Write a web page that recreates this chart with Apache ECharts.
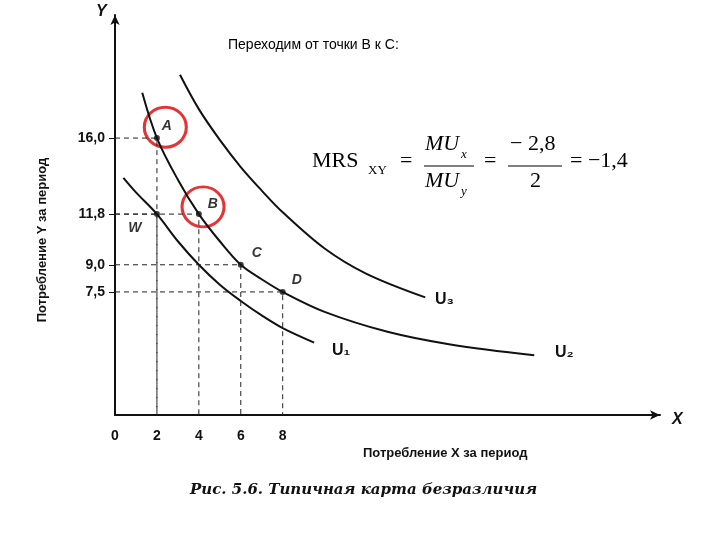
<!DOCTYPE html>
<html><head><meta charset="utf-8">
<script src="https://cdn.jsdelivr.net/npm/echarts@6/dist/echarts.min.js"></script>
<style>html,body{margin:0;background:#fff}#c{width:720px;height:540px}</style>
</head><body><div id="c"></div>
<script>
// кривые безразличия (x, y)
var u1 = [[0.4,13.8],[1,13],[2,11.8],[3,10.3],[4,9.0],[5,7.9],[6,7.0],[7,6.2],[8,5.5],[9.5,4.7]];
var u2 = [[1.3,18.5],[2,16],[3,13.7],[4,11.8],[5,10.3],[6,9],[7,8.2],[8,7.5],[10,6.4],[13,5.3],[16,4.6],[20,4.0]];
var u3 = [[3.1,19.5],[4,17.6],[5,15.9],[6,14.4],[7,13.1],[8,11.9],[10,9.9],[12,8.5],[14.8,7.2]];
var points = [['A',2,16],['W',2,11.8],['B',4,11.8],['C',6,9],['D',8,7.5]];
var xTicks = [2,4,6,8];
var yTicks = [16,11.8,9,7.5];
var circles = [[2.4,16.6],[4.2,12.2]];
var yMin = 0.7;

var dash = {type:'line',symbol:'none',silent:true,lineStyle:{color:'#222',width:1,type:[5,4]}};
var dashSeries = [];
points.forEach(function(p){
  dashSeries.push(Object.assign({data:[[0,p[2]],[p[1],p[2]],[p[1],yMin]]},dash));
});

var labelPos = {A:[10,-12],W:[-22,14],B:[14,-10],C:[16,-12],D:[14,-12]};
var curve = function(d){return {type:'line',data:d,smooth:0.35,symbol:'none',lineStyle:{color:'#111',width:2}};};

var chart = echarts.init(document.getElementById('c'));
chart.setOption({
  animation:false,
  grid:{left:115,right:60,top:15,bottom:125},
  xAxis:{type:'value',min:0,max:26,splitLine:{show:false},
    axisLine:{symbol:['none','arrow'],symbolSize:[7,10],lineStyle:{color:'#111',width:2}},
    axisTick:{show:false},
    axisLabel:{customValues:[0].concat(xTicks),margin:14,fontWeight:'bold',fontSize:14,color:'#111',fontFamily:'Arial',
      formatter:function(v){return String(v);}}},
  yAxis:{type:'value',min:yMin,max:22.8,splitLine:{show:false},
    axisLine:{symbol:['none','arrow'],symbolSize:[7,10],lineStyle:{color:'#111',width:2}},
    axisTick:{customValues:yTicks,length:6,lineStyle:{color:'#111'}},
    axisLabel:{customValues:yTicks,margin:10,fontWeight:'bold',fontSize:14,color:'#111',fontFamily:'Arial',
      formatter:function(v){return v.toFixed(1).replace('.',',');}}},
  series:[curve(u1),curve(u2),curve(u3)].concat(dashSeries).concat([
    {type:'scatter',symbolSize:6,itemStyle:{color:'#111'},
      data:points.map(function(p){return {value:[p[1],p[2]],label:{show:true,formatter:p[0],
        offset:labelPos[p[0]],fontWeight:'bold',fontStyle:'italic',fontSize:14,color:'#000'}};})},
    {type:'scatter',symbol:'circle',symbolSize:[42,40],silent:true,
      itemStyle:{color:'rgba(0,0,0,0)',borderColor:'#e00000',borderWidth:3},data:circles}
  ]),
  graphic:[
    {type:'text',left:228,top:38,style:{text:'Переходим от точки В к С:',font:'14px Arial',fill:'#000'}},
    {type:'text',left:96,top:4,style:{text:'Y',font:'bold italic 16px Arial',fill:'#111'}},
    {type:'text',left:672,top:412,style:{text:'X',font:'bold italic 16px Arial',fill:'#111'}},
    {type:'text',left:363,top:447,style:{text:'Потребление X за период',font:'bold 13px Arial',fill:'#111'}},
    {type:'text',x:42,y:240,rotation:Math.PI/2,style:{text:'Потребление Y за период',font:'bold 13px Arial',fill:'#111',align:'center',verticalAlign:'middle'}},
    {type:'text',left:190,top:483,style:{text:'Рис. 5.6. Типичная карта безразличия',font:'bold italic 15px "DejaVu Serif"',fill:'#111'}},
    {type:'text',left:435,top:292,style:{text:'U₃',font:'bold 16px Arial',fill:'#111'}},
    {type:'text',left:555,top:345,style:{text:'U₂',font:'bold 16px Arial',fill:'#111'}},
    {type:'text',left:332,top:343,style:{text:'U₁',font:'bold 16px Arial',fill:'#111'}},
    // формула
    {type:'text',left:312,top:150,style:{text:'MRS',font:'22px "Liberation Serif"',fill:'#000'}},
    {type:'text',left:368,top:164,style:{text:'XY',font:'13px "Liberation Serif"',fill:'#000'}},
    {type:'text',left:400,top:150,style:{text:'=',font:'22px "Liberation Serif"',fill:'#000'}},
    {type:'text',left:425,top:133,style:{text:'MU',font:'italic 22px "Liberation Serif"',fill:'#000'}},
    {type:'text',left:461,top:148,style:{text:'x',font:'italic 13px "Liberation Serif"',fill:'#000'}},
    {type:'line',shape:{x1:424,y1:166,x2:474,y2:166},style:{stroke:'#000',lineWidth:1}},
    {type:'text',left:425,top:170,style:{text:'MU',font:'italic 22px "Liberation Serif"',fill:'#000'}},
    {type:'text',left:461,top:185,style:{text:'y',font:'italic 13px "Liberation Serif"',fill:'#000'}},
    {type:'text',left:484,top:150,style:{text:'=',font:'22px "Liberation Serif"',fill:'#000'}},
    {type:'text',left:510,top:133,style:{text:'− 2,8',font:'22px "Liberation Serif"',fill:'#000'}},
    {type:'line',shape:{x1:508,y1:166,x2:562,y2:166},style:{stroke:'#000',lineWidth:1}},
    {type:'text',left:530,top:170,style:{text:'2',font:'22px "Liberation Serif"',fill:'#000'}},
    {type:'text',left:570,top:150,style:{text:'= −1,4',font:'22px "Liberation Serif"',fill:'#000'}}
  ]
});
</script></body></html>
